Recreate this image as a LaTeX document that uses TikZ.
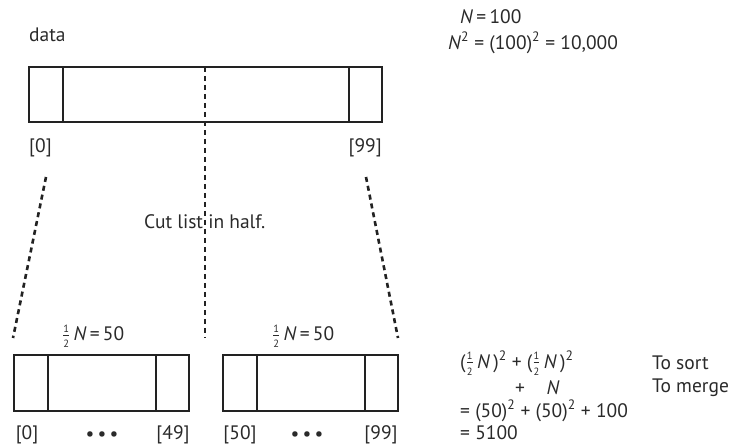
\documentclass[tikz,border=0pt]{standalone}
\usepackage{fontspec}
\usepackage{amsmath}
\setmainfont{PT Sans}
\definecolor{txt}{HTML}{2A2A2A}
\definecolor{ln}{HTML}{222222}
\newcommand{\hf}{\ensuremath{\frac{\text{\fontsize{10.5}{10.5}\selectfont 1}}{\text{\fontsize{10.5}{10.5}\selectfont 2}}}}
\newcommand{\NN}{\textit{N}}
\newcommand{\sq}{\textsuperscript{2}}
\begin{document}
\begin{tikzpicture}[x=1pt,y=-1pt,
  lbl/.style={text=txt,font=\fontsize{19.5}{23}\selectfont,inner sep=0pt},
  boxline/.style={draw=ln,line width=1.5pt},
  cut/.style={draw=ln,line width=2.6pt,dash pattern=on 5pt off 4pt}]
\useasboundingbox (0,0) rectangle (732,446);
% top box
\draw[boxline] (29,67) rectangle (382,122);
\draw[boxline] (63,67) -- (63,122);
\draw[boxline] (349,67) -- (349,122);
\node[lbl,anchor=west] (data) at (29,35) {data};
\node[lbl,anchor=west] (t0) at (29,148) {[0]};
\node[lbl,anchor=east] (t99) at (382,148) {[99]};
% bottom left
\draw[boxline] (14,355) rectangle (189,411);
\draw[boxline] (48,355) -- (48,411);
\draw[boxline] (156,355) -- (156,411);
% bottom right
\draw[boxline] (223,355) rectangle (398,411);
\draw[boxline] (257,355) -- (257,411);
\draw[boxline] (365,355) -- (365,411);
% dashed
\coordinate (mt) at (205,67);
\coordinate (mb) at (205,338);
\coordinate (lt) at (46,177);
\coordinate (lb) at (13,338);
\coordinate (rt) at (366,177);
\coordinate (rb) at (398,338);
\draw[cut] (mt) -- (mb);
\draw[cut] (lt) -- (lb);
\draw[cut] (rt) -- (rb);
\node[lbl,anchor=west] (cut) at (144,222) {Cut list in half.};
% half labels
\node[lbl,anchor=west] (hl) at (62,336) {\hf\,\NN\,=\,50};
\node[lbl,anchor=west] (hr) at (272,336) {\hf\,\NN\,=\,50};
% bottom indices
\node[lbl] (b0) at (27,435) {[0]};
\node[lbl] (bd1) at (102,436) {\textbullet\,\textbullet\,\textbullet};
\node[lbl] (b49) at (173,435) {[49]};
\node[lbl] (b50) at (240,435) {[50]};
\node[lbl] (bd2) at (307,436) {\textbullet\,\textbullet\,\textbullet};
\node[lbl] (b99) at (381,435) {[99]};
% top right
\node[lbl,anchor=west] (n1) at (460,17) {\NN\,=\,100};
\node[lbl,anchor=west] (n2) at (448,43) {\NN\sq{} = (100)\sq{} = 10,000};
% bottom right
\node[lbl,anchor=west] (e1) at (460,363) {(\hf\,\NN\,)\sq{} + (\hf\,\NN\,)\sq};
\node[lbl,anchor=west] (e2) at (515,388) {+\hspace{1.1em}\NN};
\node[lbl,anchor=west] (e3) at (460,411) {= (50)\sq{} + (50)\sq{} + 100};
\node[lbl,anchor=west] (e4) at (460,433) {= 5100};
\node[lbl,anchor=west] (s1) at (652,363) {To sort};
\node[lbl,anchor=west] (s2) at (652,388) {To merge};
\end{tikzpicture}
\end{document}
